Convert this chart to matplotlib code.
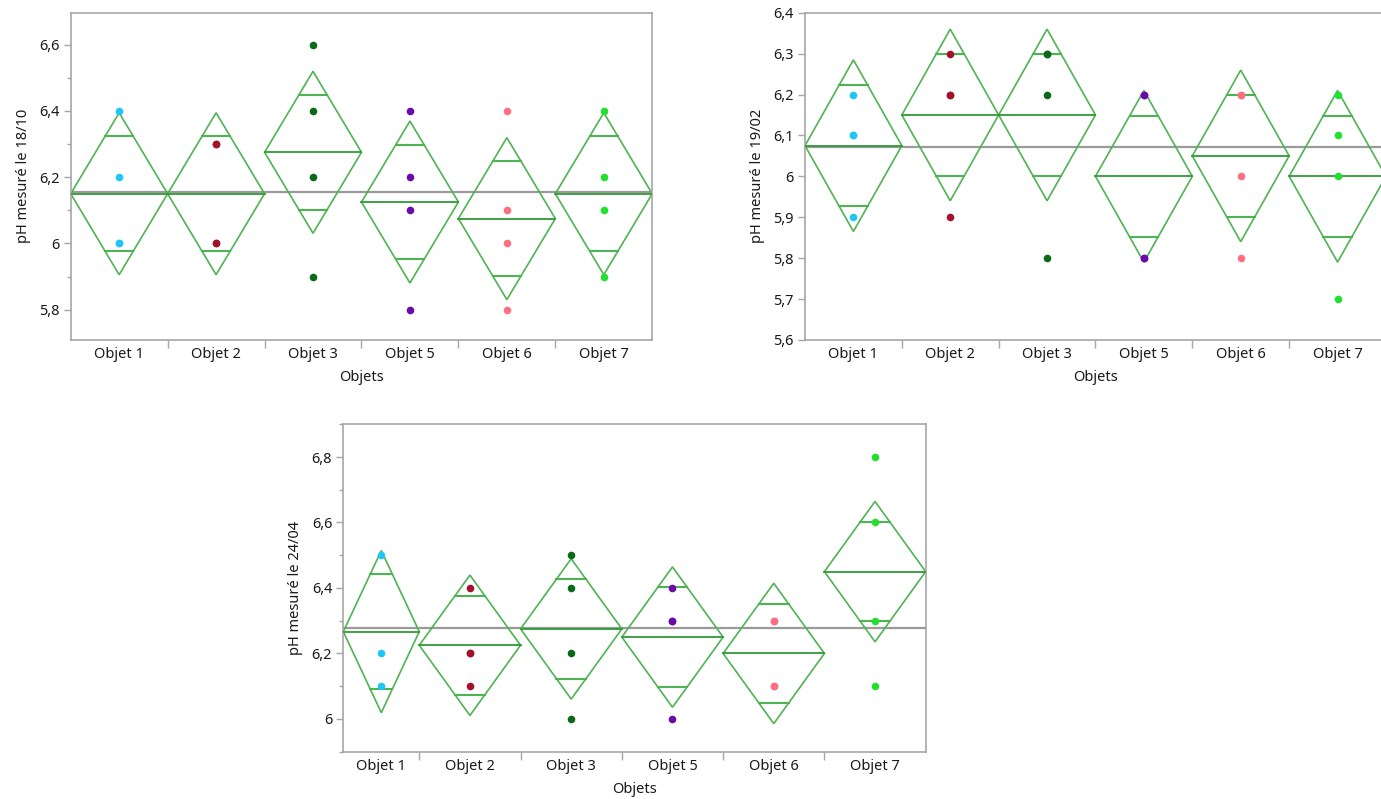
import numpy as np
import matplotlib
matplotlib.use("Agg")
import matplotlib.pyplot as plt
from matplotlib.patches import Polygon
from matplotlib.ticker import MultipleLocator, FuncFormatter

plt.rcParams['font.family'] = ['Noto Sans', 'DejaVu Sans']

objets = ["Objet 1", "Objet 2", "Objet 3", "Objet 5", "Objet 6", "Objet 7"]
point_colors = ["#1ec6f7", "#a3122a", "#0a6a1a", "#6a0aa8", "#ff6f82", "#22e02e"]

ph_1810 = [[6.4, 6.2, 6.0, 6.0],
           [6.3, 6.3, 6.0, 6.0],
           [6.6, 6.4, 6.2, 5.9],
           [6.4, 6.2, 6.1, 5.8],
           [6.4, 6.1, 6.0, 5.8],
           [6.4, 6.2, 6.1, 5.9]]

ph_1902 = [[6.2, 6.1, 6.1, 5.9],
           [6.3, 6.2, 6.2, 5.9],
           [6.3, 6.3, 6.2, 5.8],
           [6.2, 6.2, 5.8, 5.8],
           [6.2, 6.2, 6.0, 5.8],
           [6.2, 6.1, 6.0, 5.7]]

ph_2404 = [[6.5, 6.2, 6.1],
           [6.4, 6.2, 6.2, 6.1],
           [6.5, 6.4, 6.2, 6.0],
           [6.4, 6.3, 6.3, 6.0],
           [6.3, 6.3, 6.1, 6.1],
           [6.8, 6.6, 6.3, 6.1]]

# Student t 97.5% quantiles for the residual degrees of freedom
T975 = {17: 2.109816, 18: 2.100922}

DIAMOND = "#4fb353"
MEANLINE = "#2e9a36"
GRID_GRAY = "#a6a6a6"
TEXT = "#1a1a1a"


def fmt(v, pos):
    s = f"{v:.1f}"
    if s.endswith(".0"):
        s = s[:-2]
    return s.replace(".", ",")


def means_diamond(ax, groups, ylabel, ylim, major, minor):
    ns = np.array([len(g) for g in groups])
    means = np.array([np.mean(g) for g in groups])
    allv = np.concatenate([np.array(g) for g in groups])
    grand = allv.mean()
    sse = sum(((np.array(g) - np.mean(g)) ** 2).sum() for g in groups)
    df = len(allv) - len(groups)
    s = np.sqrt(sse / df)
    t = T975[df]
    edges = np.concatenate([[0], np.cumsum(ns)])
    total = edges[-1]

    ax.axhline(grand, color="#9a9a9a", lw=1.6, zorder=1)
    for i, g in enumerate(groups):
        l, r = edges[i], edges[i + 1]
        m = (l + r) / 2
        hw = (r - l) / 2
        ci = t * s / np.sqrt(ns[i])
        poly = Polygon([(l, means[i]), (m, means[i] + ci), (r, means[i]), (m, means[i] - ci)],
                       closed=True, fill=False, edgecolor=DIAMOND, lw=1.2, zorder=2)
        ax.add_patch(poly)
        ax.plot([l, r], [means[i], means[i]], color=MEANLINE, lw=1.3, zorder=3)
        k = 1 - 1 / np.sqrt(2)
        for sgn in (1, -1):
            yv = means[i] + sgn * ci / np.sqrt(2)
            ax.plot([m - hw * k, m + hw * k], [yv, yv], color=DIAMOND, lw=1.5, zorder=3)
        ax.scatter([m] * len(g), g, s=30, color=point_colors[i], zorder=4, linewidths=0)

    ax.set_xlim(0, total)
    ax.set_ylim(*ylim)
    ax.set_xticks(edges[1:-1])
    ax.set_xticklabels([])
    centers = (edges[:-1] + edges[1:]) / 2
    ax.set_xticks(centers, minor=True)
    ax.set_xticklabels(objets, minor=True)
    ax.tick_params(axis="x", which="major", length=6, color=GRID_GRAY, width=1)
    ax.tick_params(axis="x", which="minor", length=0, pad=5, labelsize=10.5, labelcolor=TEXT)
    ax.yaxis.set_major_locator(MultipleLocator(major))
    if minor:
        ax.yaxis.set_minor_locator(MultipleLocator(minor))
    ax.yaxis.set_major_formatter(FuncFormatter(fmt))
    ax.tick_params(axis="y", which="major", length=5, color=GRID_GRAY, width=1, labelsize=10.5,
                   labelcolor=TEXT, pad=3)
    ax.tick_params(axis="y", which="minor", length=3, color=GRID_GRAY, width=1)
    for sp in ax.spines.values():
        sp.set_color(GRID_GRAY)
        sp.set_linewidth(1.2)
    ax.set_ylabel(ylabel, fontsize=10.5, color=TEXT, labelpad=6)
    ax.set_xlabel("Objets", fontsize=10.5, color=TEXT, labelpad=6)


fig = plt.figure(figsize=(13.81, 7.99), dpi=100)
ax1 = fig.add_axes([0.0512, 0.5745, 0.4211, 0.4096])
ax2 = fig.add_axes([0.5829, 0.5745, 0.4207, 0.4096])
ax3 = fig.add_axes([0.2486, 0.0592, 0.4217, 0.4098])

means_diamond(ax1, ph_1810, "pH mesuré le 18/10", (5.709, 6.696), 0.2, 0.1)
means_diamond(ax2, ph_1902, "pH mesuré le 19/02", (5.6, 6.4), 0.1, None)
means_diamond(ax3, ph_2404, "pH mesuré le 24/04", (5.9, 6.9), 0.2, 0.1)

fig.savefig("out.png", dpi=100)
